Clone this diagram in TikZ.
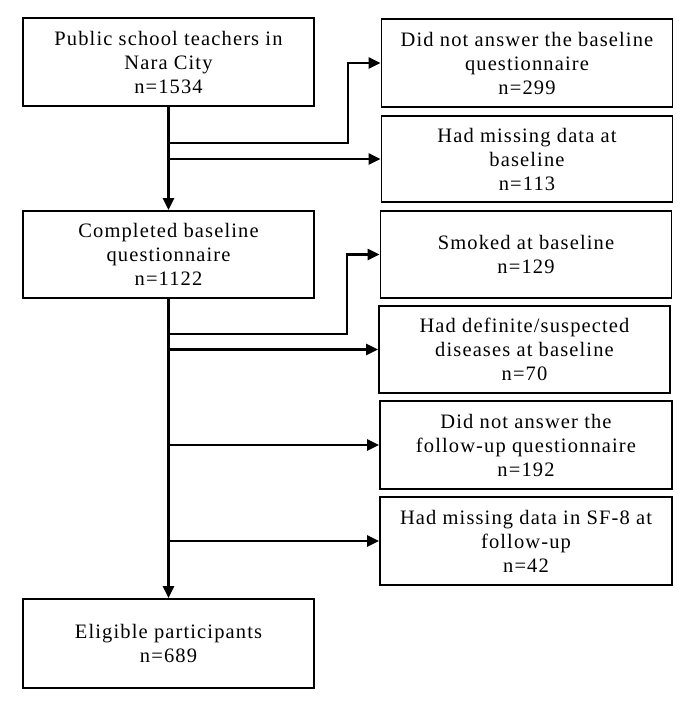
\documentclass[tikz,border=0pt]{standalone}
\usepackage{fontspec}
\setmainfont{Liberation Serif}[LetterSpace=5.5]
\usetikzlibrary{arrows.meta}
\begin{document}
\begin{tikzpicture}[x=1pt,y=-1pt,
  box/.style={draw, line width=1.8pt, minimum width=291pt, align=center, inner sep=0pt,
    font=\fontsize{20.5}{24}\selectfont},
  conn/.style={line width=2.6pt},
  arr/.style={conn, -{Triangle[length=12pt,width=11pt]}}]
\useasboundingbox (0,0) rectangle (685,701);
\node[box, minimum height=88pt] (b1) at (168.5,62) {Public school teachers in\\Nara City\\n=1534};
\node[box, minimum height=87pt] (b2) at (168.5,254.5) {Completed baseline\\questionnaire\\n=1122};
\node[box, minimum height=89pt] (b3) at (168.5,643.5) {Eligible participants\\n=689};
\node[box, minimum height=88pt] (r1) at (527,63) {Did not answer the baseline\\questionnaire\\n=299};
\node[box, minimum height=86pt] (r2) at (527,159) {Had missing data at\\baseline\\n=113};
\node[box, minimum height=87pt] (r3) at (526,254.5) {Smoked at baseline\\n=129};
\node[box, minimum height=87pt, minimum width=291pt] (r4) at (524.5,349.5) {Had definite/suspected\\diseases at baseline\\n=70};
\node[box, minimum height=88pt, minimum width=292pt] (r5) at (526,445) {Did not answer the\\follow-up questionnaire\\n=192};
\node[box, minimum height=88pt, minimum width=292pt] (r6) at (526,541) {Had missing data in SF-8 at\\follow-up\\n=42};
\coordinate (j1) at (168.5,143);
\coordinate (k1) at (348,143);
\coordinate (j2) at (168.5,334);
\coordinate (k2) at (347,334);
\draw[arr] (b1) -- (b2);
\draw[arr] (b2) -- (b3);
\draw[arr] (j1) -- (k1) |- (r1.west);
\draw[arr] (b1.south |- r2.west) -- (r2.west);
\draw[arr] (j2) -- (k2) |- (r3.west);
\draw[arr] (b2.south |- r4.west) -- (r4.west);
\draw[arr] (b2.south |- r5.west) -- (r5.west);
\draw[arr] (b2.south |- r6.west) -- (r6.west);
\end{tikzpicture}
\end{document}
